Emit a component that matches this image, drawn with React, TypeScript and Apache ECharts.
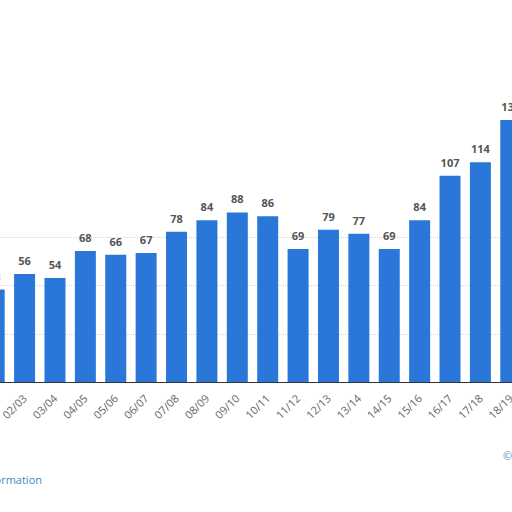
import { useEffect, useRef } from "react";
import * as echarts from "echarts";

const SEASONS = [
  "01/02", "02/03", "03/04", "04/05", "05/06", "06/07", "07/08", "08/09", "09/10",
  "10/11", "11/12", "12/13", "13/14", "14/15", "15/16", "16/17", "17/18", "18/19",
];
const VALUES = [48, 56, 54, 68, 66, 67, 78, 84, 88, 86, 69, 79, 77, 69, 84, 107, 114, 136];
const Y_MAX = 150;
const Y_STEP = 25;

const FONT = "'Open Sans', 'DejaVu Sans', sans-serif";

export default function App() {
  const chartRef = useRef<HTMLDivElement>(null);

  useEffect(() => {
    if (!chartRef.current) return;
    const chart = echarts.init(chartRef.current, undefined, { renderer: "svg" });

    chart.setOption({
      animation: false,
      grid: { left: 19, right: 34, top: 93, bottom: 130 },
      xAxis: {
        type: "category",
        data: SEASONS,
        axisLine: { lineStyle: { color: "#333", width: 1 } },
        axisTick: { show: false },
        axisLabel: {
          rotate: 45,
          fontSize: 11,
          color: "#666",
          fontFamily: FONT,
          margin: 14,
          interval: 0,
        },
      },
      yAxis: {
        type: "value",
        min: 0,
        max: Y_MAX,
        interval: Y_STEP,
        axisLabel: { show: false },
        axisLine: { show: false },
        axisTick: { show: false },
        splitLine: {
          lineStyle: {
            type: "dotted",
            color: ["#d6d6d6", "#d6d6d6", "#d6d6d6", "#d6d6d6", "transparent", "transparent", "transparent"],
          },
        },
      },
      series: [
        {
          type: "bar",
          data: VALUES,
          barWidth: 21,
          itemStyle: { color: "#2a76d9" },
          label: {
            show: true,
            position: "top",
            distance: 8,
            fontSize: 11,
            fontWeight: "bold",
            color: "#555",
            fontFamily: FONT,
          },
        },
      ],
      graphic: [
        {
          type: "text",
          x: 82,
          y: 479,
          style: {
            text: "Additional Information",
            fill: "#3b8ac4",
            font: `11px ${FONT}`,
            textAlign: "right",
            textVerticalAlign: "middle",
          },
        },
        {
          type: "text",
          x: 543,
          y: 455,
          style: {
            text: "© Statista 2021",
            fill: "#4d8fc4",
            font: `11px ${FONT}`,
            textAlign: "left",
            textVerticalAlign: "middle",
          },
        },
      ],
    });

    return () => chart.dispose();
  }, []);

  return (
    <div style={{
      position: "fixed",
      left: 0,
      top: 0,
      width: "512px",
      height: "512px",
      overflow: "hidden",
      background: "#fff",
    }}>
      <div ref={chartRef} style={{ position: "absolute", left: "-40px", top: 0, width: "600px", height: "512px" }} />
    </div>
  );
}
